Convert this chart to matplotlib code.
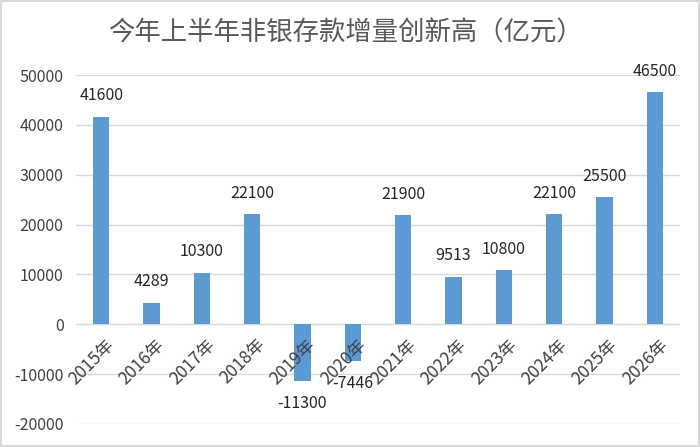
import matplotlib.pyplot as plt
from matplotlib.patches import Rectangle

plt.rcParams['font.family'] = ['Noto Sans CJK SC', 'DejaVu Sans']

years = ['2015年', '2016年', '2017年', '2018年', '2019年', '2020年',
         '2021年', '2022年', '2023年', '2024年', '2025年', '2026年']
values = [41600, 4289, 10300, 22100, -11300, -7446,
          21900, 9513, 10800, 22100, 25500, 46500]
yticks = [-20000, -10000, 0, 10000, 20000, 30000, 40000, 50000]

fig = plt.figure(figsize=(7, 4.47), dpi=100)
ax = fig.add_axes([76/700, 1-424/447, 604/700, 349/447])

x = list(range(len(years)))
ax.bar(x, values, width=0.32, color='#5B9BD5', zorder=3)

ax.set_xlim(-0.5, len(years) - 0.5)
ax.set_ylim(-20000, 50000)
ax.set_yticks(yticks)
ax.set_yticklabels([str(v) for v in yticks], fontsize=11.5, color='#404040')
ax.tick_params(axis='y', length=0, pad=9)
ax.set_xticks([])
ax.grid(axis='y', color='#D9D9D9', linewidth=1, zorder=0)
for s in ax.spines.values():
    s.set_visible(False)

# year labels hang from the zero line
for i, lab in zip(x, years):
    ax.annotate(lab, xy=(i, 0), xytext=(3, -8), textcoords='offset points',
                rotation=45, rotation_mode='anchor', ha='right', va='top',
                fontsize=12.5, color='#404040')

# value labels
for i, v in zip(x, values):
    if v >= 0:
        ax.annotate(str(v), xy=(i, v), xytext=(0, 9), textcoords='offset points',
                    ha='center', va='bottom', fontsize=11.5, color='#262626')
    else:
        ax.annotate(str(v), xy=(i, v), xytext=(0, -10), textcoords='offset points',
                    ha='center', va='top', fontsize=11.5, color='#262626')

fig.text(345/700, 1-33/447, '今年上半年非银存款增量创新高（亿元）', ha='center', va='center',
         fontsize=19, color='#595959')

fig.patches.append(Rectangle((0.002, 0.003), 0.996, 0.994, transform=fig.transFigure,
                             fill=False, edgecolor='#D9D9D9', linewidth=1.5))

fig.savefig('out.png', dpi=100)
